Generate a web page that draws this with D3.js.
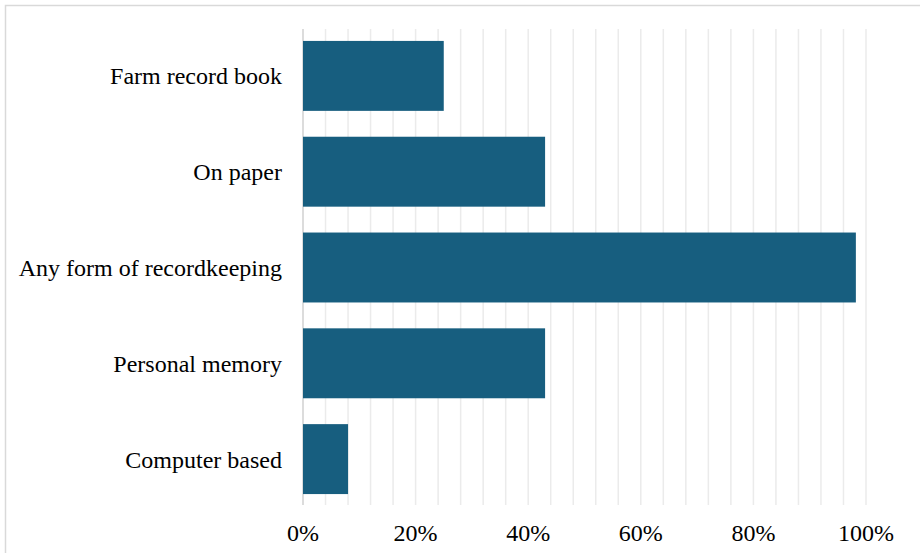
<!DOCTYPE html>
<html><head><meta charset="utf-8">
<script src="https://cdn.jsdelivr.net/npm/d3@7"></script>
<style>body{margin:0;background:#fff}svg{display:block}text{font-family:"Liberation Serif","Times New Roman",serif}</style>
</head><body><svg id="c" width="920" height="553"></svg>
<script>
const categories = ["Farm record book","On paper","Any form of recordkeeping","Personal memory","Computer based"];
const values = [25, 43, 98.2, 43, 8];
const tickValues = [0,20,40,60,80,100];
const gridValues = d3.range(0, 101, 4);

const svg = d3.select("#c");
svg.append("rect").attr("x",5.5).attr("y",5.5).attr("width",930).attr("height",560)
  .attr("fill","#fff").attr("stroke","#d9d9d9").attr("stroke-width",1.5);

const x = d3.scaleLinear().domain([0,100]).range([303,866]);
const y = d3.scaleBand().domain(categories).range([28,507]).paddingInner(0.27).paddingOuter(0.135);

svg.append("g").selectAll("line").data(gridValues).join("line")
  .attr("x1",d=>x(d)).attr("x2",d=>x(d)).attr("y1",29).attr("y2",505)
  .attr("stroke",d=>d===0?"#d0d0d0":"#ebebeb").attr("stroke-width",1.5);

svg.append("g").selectAll("rect").data(categories).join("rect")
  .attr("x",x(0)).attr("y",d=>y(d)).attr("height",y.bandwidth())
  .attr("width",(d,i)=>x(values[i])-x(0)).attr("fill","#175e7f");

svg.append("g").selectAll("text").data(categories).join("text")
  .attr("x",282).attr("y",d=>y(d)+y.bandwidth()/2).attr("dy","0.35em")
  .attr("text-anchor","end").attr("font-size",24).attr("fill","#000")
  .text(d=>d);

svg.append("g").selectAll("text").data(tickValues).join("text")
  .attr("x",d=>x(d)).attr("y",541).attr("text-anchor","middle")
  .attr("font-size",24).attr("fill","#000")
  .text(d=>d3.format("d")(d)+"%");
</script></body></html>
